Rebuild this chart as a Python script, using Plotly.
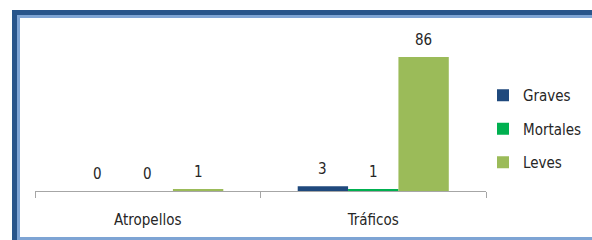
import plotly.graph_objects as go

categories = ["Atropellos", "Tráficos"]
graves = [0, 3]
mortales = [0, 1]
leves = [1, 86]
series_names = ["Graves", "Mortales", "Leves"]
series_colors = ["#1F497D", "#00B050", "#9BBB59"]

W, H = 592, 240
ML, MR, MT, MB = 35, 106, 25, 49
PW, PH = W - ML - MR, H - MT - MB
FONT = "DejaVu Sans Condensed, Liberation Sans Narrow, sans-serif"
FS = 15


def px_x(p):
    return (p - ML) / PW


def px_y(p):
    return (H - MB - p) / PH


fig = go.Figure()
all_vals = [graves, mortales, leves]
for name, vals, col in zip(series_names, all_vals, series_colors):
    fig.add_trace(go.Bar(
        x=categories, y=vals, name=name, legendgroup=name,
        marker=dict(color=col, line=dict(width=0)),
        hoverinfo="skip",
    ))

ymax = 86 * PH / 134.0
annotations = []
for i, vals in enumerate(all_vals):
    for j, v in enumerate(vals):
        off = (i - 1) * (1 - 0.33) / 3
        annotations.append(dict(
            x=j + off, y=v, xref="x", yref="y",
            text=str(v), showarrow=False, yanchor="bottom", yshift=6,
            font=dict(family=FONT, size=FS, color="#262626"),
        ))

shapes = []
dark = "#28558B"
light = "#7EA4D4"
shapes.append(dict(type="rect", xref="paper", yref="paper", x0=px_x(12), x1=px_x(W),
                   y0=px_y(15), y1=px_y(10), fillcolor=dark, line=dict(width=0), layer="above"))
shapes.append(dict(type="rect", xref="paper", yref="paper", x0=px_x(17), x1=px_x(W),
                   y0=px_y(18), y1=px_y(15), fillcolor=light, line=dict(width=0), layer="above"))
shapes.append(dict(type="rect", xref="paper", yref="paper", x0=px_x(12), x1=px_x(17),
                   y0=px_y(H), y1=px_y(10), fillcolor=dark, line=dict(width=0), layer="above"))
shapes.append(dict(type="rect", xref="paper", yref="paper", x0=px_x(17), x1=px_x(20),
                   y0=px_y(H), y1=px_y(15), fillcolor=light, line=dict(width=0), layer="above"))
shapes.append(dict(type="rect", xref="paper", yref="paper", x0=px_x(17), x1=px_x(W),
                   y0=px_y(H), y1=px_y(237), fillcolor=light, line=dict(width=0), layer="above"))

fig.update_layout(
    width=W, height=H,
    margin=dict(l=ML, r=MR, t=MT, b=MB, pad=0, autoexpand=False),
    paper_bgcolor="white", plot_bgcolor="white",
    barmode="group", bargap=0.33, bargroupgap=0,
    font=dict(family=FONT, size=FS, color="#262626"),
    xaxis=dict(
        showline=True, linecolor="#A6A6A6", linewidth=1,
        ticks="outside", ticklen=6, tickcolor="#A6A6A6", tickson="boundaries",
        showgrid=False, zeroline=False, ticklabelstandoff=15,
        tickfont=dict(family=FONT, size=FS, color="#262626"),
    ),
    yaxis=dict(visible=False, range=[0, ymax], showgrid=False, zeroline=False),
    legend=dict(
        x=px_x(483), xanchor="left", y=px_y(79), yanchor="top",
        traceorder="grouped", tracegroupgap=11, itemwidth=30,
        font=dict(family=FONT, size=FS, color="#262626"),
        bgcolor="rgba(0,0,0,0)",
    ),
    annotations=annotations,
    shapes=shapes,
    hovermode=False,
)

fig.write_html(
    "out.html",
    config={"displayModeBar": False},
    post_script="document.body.style.margin='0px';document.body.style.overflow='hidden';",
)
